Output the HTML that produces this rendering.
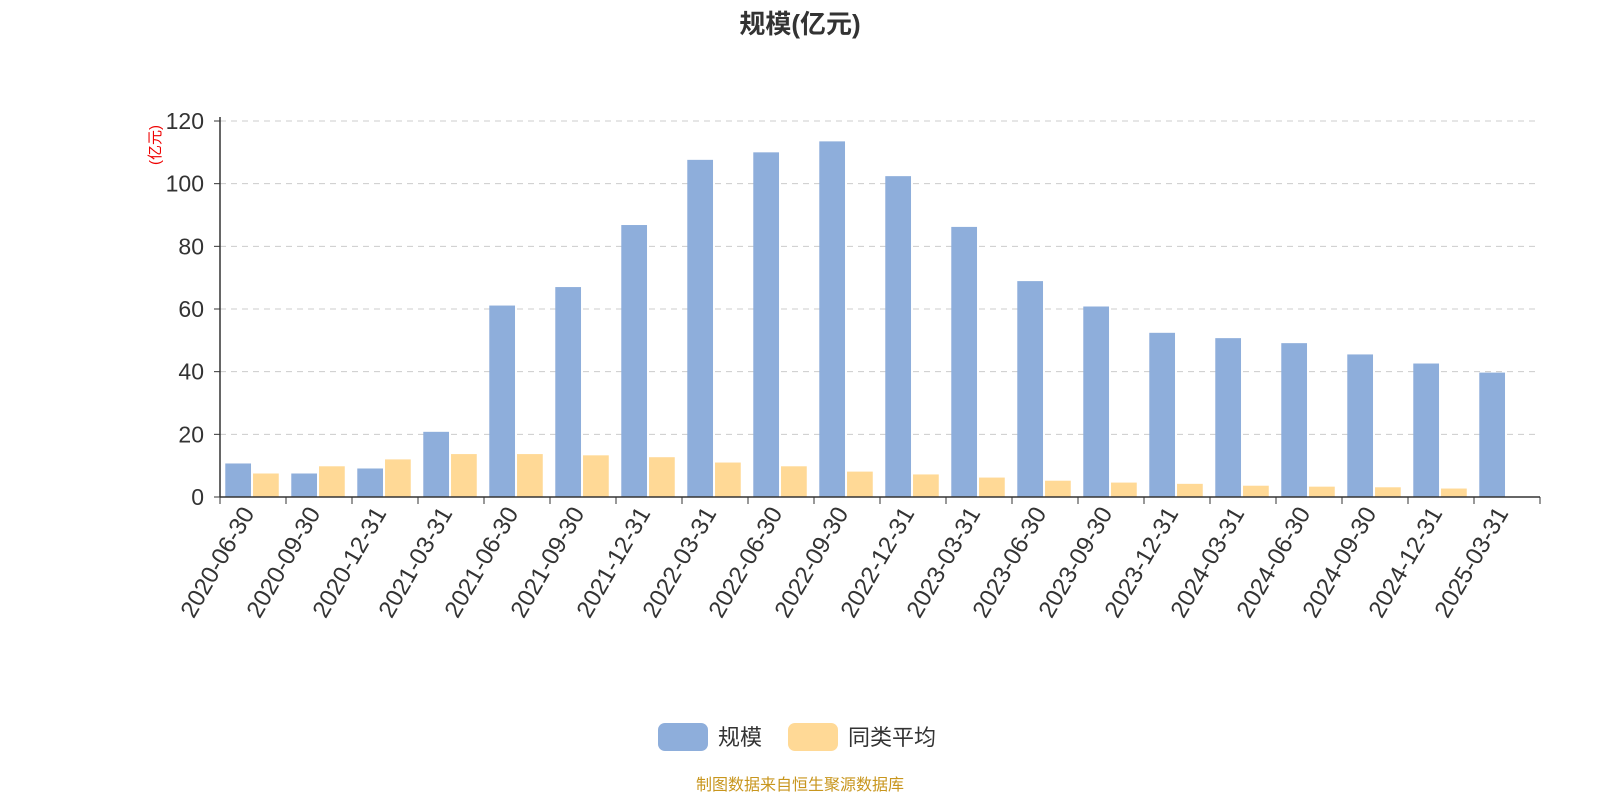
<!DOCTYPE html>
<html><head><meta charset="utf-8">
<style>
body{margin:0;background:#fff;width:1600px;height:800px;overflow:hidden;font-family:"Liberation Sans","Noto Sans CJK SC",sans-serif;}
</style></head>
<body>
<svg id="chart" width="1600" height="800" xmlns="http://www.w3.org/2000/svg" font-family="Liberation Sans, Noto Sans CJK SC, sans-serif">
<text x="800" y="33" text-anchor="middle" font-size="26" font-weight="bold" fill="#333">规模(亿元)</text>
<text transform="translate(160,145) rotate(-90)" text-anchor="middle" font-size="15" fill="#e00">(亿元)</text>
<g id="grid"></g><g id="bars"></g><g id="axes"></g>
<g>
<rect x="658" y="723" width="50" height="28" rx="7" fill="#8eaedb"/>
<text x="718" y="745" font-size="22" fill="#333">规模</text>
<rect x="788" y="723" width="50" height="28" rx="7" fill="#ffd996"/>
<text x="848" y="745" font-size="22" fill="#333">同类平均</text>
</g>
<text x="800" y="790" text-anchor="middle" font-size="16" fill="#c8961e">制图数据来自恒生聚源数据库</text>
</svg>
<script>
const categories=["2020-06-30","2020-09-30","2020-12-31","2021-03-31","2021-06-30","2021-09-30","2021-12-31","2022-03-31","2022-06-30","2022-09-30","2022-12-31","2023-03-31","2023-06-30","2023-09-30","2023-12-31","2024-03-31","2024-06-30","2024-09-30","2024-12-31","2025-03-31"];
const sizeValues=[10.7,7.5,9.1,20.8,61.1,67,86.8,107.6,110,113.5,102.4,86.2,68.9,60.8,52.4,50.7,49.1,45.5,42.6,39.7];
const avgValues=[7.5,9.8,12,13.7,13.7,13.3,12.7,11,9.8,8.1,7.2,6.2,5.2,4.6,4.2,3.6,3.3,3.1,2.7,null];
const yTicks=[0,20,40,60,80,100,120];
const NS="http://www.w3.org/2000/svg";
const X0=220,X1=1540,Y0=497,Y1=121,YMAX=120;
const band=(X1-X0)/categories.length;
const y=v=>Y0-(v/YMAX)*(Y0-Y1);
const xb=i=>X0+i*band;
function mk(tag,attrs,parent){const e=document.createElementNS(NS,tag);for(const k in attrs)e.setAttribute(k,attrs[k]);document.getElementById(parent).appendChild(e);return e;}
yTicks.forEach(t=>{
  if(t>0){const l=mk('line',{x1:X0,x2:X1,y1:y(t),y2:y(t),stroke:'#ccc','stroke-dasharray':'6,5'},'grid');
  
  }
  const tx=mk('text',{x:X0-16,y:y(t)+8,'text-anchor':'end','font-size':'23',fill:'#333'},'axes');tx.textContent=t;
  
  
  const tk=mk('line',{x1:X0-6,x2:X0,y1:y(t),y2:y(t),stroke:'#333'},'axes');
  
  
});
categories.forEach((c,i)=>{
  const bw=band*0.39, off=band*0.08;
  const b=mk('rect',{x:xb(i)+off,y:y(sizeValues[i]),width:bw,height:Y0-y(sizeValues[i]),fill:'#8eaedb'},'bars');
  
  
  if(avgValues[i]!=null){
    const a=mk('rect',{x:xb(i)+off+bw+2,y:y(avgValues[i]),width:bw,height:Y0-y(avgValues[i]),fill:'#ffd996'},'bars');
    
    
  }
  const tk=mk('line',{x1:xb(i),x2:xb(i),y1:Y0,y2:Y0+7,stroke:'#333'},'axes');
  
  
  const cx=xb(i)+band/2;
  const t=mk('text',{x:cx+2,y:Y0+16,'text-anchor':'end','font-size':'24',fill:'#333',transform:`rotate(-60 ${cx+2} ${Y0+16})`},'axes');
  t.textContent=c;
  
  
});
const lt=mk('line',{x1:X1,x2:X1,y1:Y0,y2:Y0+7,stroke:'#333'},'axes');


const ax=mk('line',{x1:X0,x2:X1,y1:Y0,y2:Y0,stroke:'#333','stroke-width':'1.5'},'axes');


const ay=mk('line',{x1:X0,x2:X0,y1:Y1-4,y2:Y0,stroke:'#333','stroke-width':'1.5'},'axes');


</script>
</body></html>
